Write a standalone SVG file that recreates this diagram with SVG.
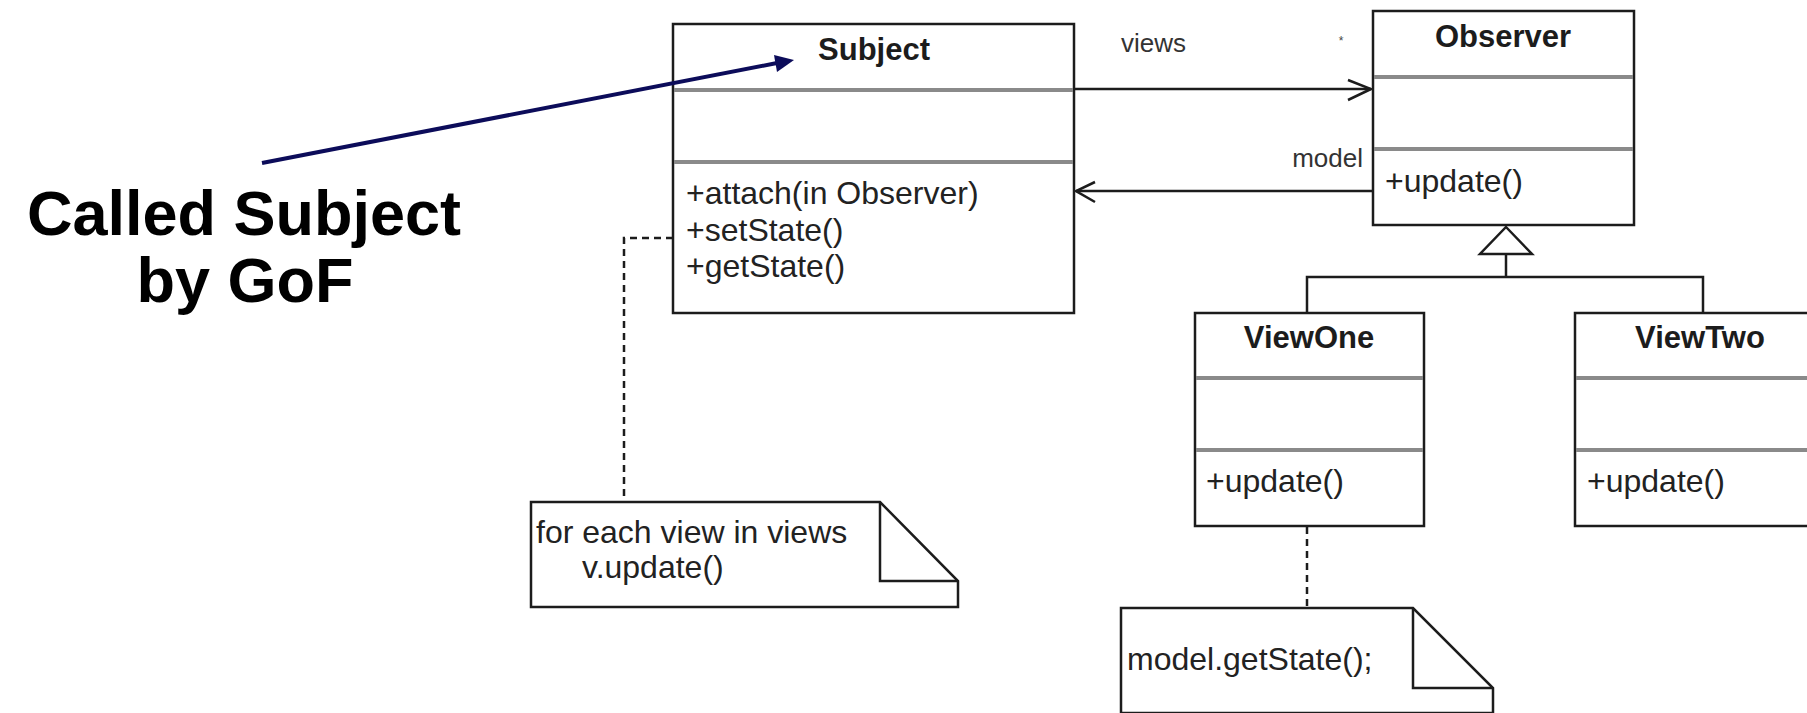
<svg xmlns="http://www.w3.org/2000/svg" width="1807" height="713" viewBox="0 0 1807 713">
  <defs>
    <style>
      .box { fill: #ffffff; stroke: #1c1c1c; stroke-width: 2.5; }
      .div { stroke: #8a8a8a; stroke-width: 4; }
      .title { font-family: "Liberation Sans", Arial, sans-serif; font-weight: bold; font-size: 31px; fill: #1c1c1c; text-anchor: middle; }
      .member { font-family: "Liberation Sans", Arial, sans-serif; font-size: 32px; fill: #222222; }
      .label { font-family: "Liberation Sans", Arial, sans-serif; font-size: 26px; fill: #333333; }
      .mult { font-family: "Liberation Sans", Arial, sans-serif; font-size: 12px; fill: #444444; text-anchor: middle; }
      .line { fill: none; stroke: #1c1c1c; stroke-width: 2.5; }
      .dash { fill: none; stroke: #1c1c1c; stroke-width: 2.5; stroke-dasharray: 7 5; }
      .note { fill: #ffffff; stroke: #1c1c1c; stroke-width: 2.5; stroke-linejoin: miter; }
      .callout { font-family: "Liberation Sans", Arial, sans-serif; font-weight: bold; font-size: 63px; fill: #000000; text-anchor: middle; }
    </style>
  </defs>
  <rect width="1807" height="713" fill="#ffffff"/>

  <!-- connectors -->
  <g id="connectors">
    <!-- views association: Subject -> Observer -->
    <line class="line" x1="1073" y1="89" x2="1371" y2="89"/>
    <polyline class="line" points="1348,80 1371,89 1348,100"/>
    <text class="label" x="1121" y="52">views</text>
    <text class="mult" x="1341" y="45">*</text>

    <!-- model association: Observer -> Subject -->
    <line class="line" x1="1373" y1="191" x2="1076" y2="191"/>
    <polyline class="line" points="1095,182 1076,191 1095,202"/>
    <text class="label" x="1363" y="167" text-anchor="end">model</text>

    <!-- generalization: ViewOne / ViewTwo -> Observer -->
    <polygon class="line" points="1506,227 1532,254 1480,254" fill="#ffffff"/>
    <polyline class="line" points="1506,254 1506,277"/>
    <polyline class="line" points="1307,313 1307,277 1703,277 1703,313"/>

    <!-- note anchors -->
    <polyline class="dash" points="673,238 624,238 624,502"/>
    <line class="dash" x1="1307" y1="527" x2="1307" y2="608"/>
  </g>

  <!-- Subject class -->
  <g id="subject">
    <rect class="box" x="673" y="24" width="401" height="289"/>
    <line class="div" x1="674" y1="90" x2="1073" y2="90"/>
    <line class="div" x1="674" y1="162" x2="1073" y2="162"/>
    <text class="title" x="874" y="60">Subject</text>
    <text class="member" x="686" y="204">+attach(in Observer)</text>
    <text class="member" x="686" y="241">+setState()</text>
    <text class="member" x="686" y="277">+getState()</text>
  </g>

  <!-- Observer class -->
  <g id="observer">
    <rect class="box" x="1373" y="11" width="261" height="214"/>
    <line class="div" x1="1374" y1="77" x2="1633" y2="77"/>
    <line class="div" x1="1374" y1="149" x2="1633" y2="149"/>
    <text class="title" x="1503" y="47">Observer</text>
    <text class="member" x="1385" y="192">+update()</text>
  </g>

  <!-- ViewOne class -->
  <g id="viewone">
    <rect class="box" x="1195" y="313" width="229" height="213"/>
    <line class="div" x1="1196" y1="378" x2="1423" y2="378"/>
    <line class="div" x1="1196" y1="450" x2="1423" y2="450"/>
    <text class="title" x="1309" y="348">ViewOne</text>
    <text class="member" x="1206" y="492">+update()</text>
  </g>

  <!-- ViewTwo class (runs past the right edge) -->
  <g id="viewtwo">
    <rect class="box" x="1575" y="313" width="260" height="213"/>
    <line class="div" x1="1576" y1="378" x2="1834" y2="378"/>
    <line class="div" x1="1576" y1="450" x2="1834" y2="450"/>
    <text class="title" x="1700" y="348">ViewTwo</text>
    <text class="member" x="1587" y="492">+update()</text>
  </g>

  <!-- note on Subject.setState -->
  <g id="note-notify">
    <path class="note" d="M531,502 H880 L958,581 V607 H531 Z"/>
    <path class="line" d="M880,502 V581 H958"/>
    <text class="member" x="536" y="543">for each view in views</text>
    <text class="member" x="582" y="578">v.update()</text>
  </g>

  <!-- note on ViewOne.update -->
  <g id="note-update">
    <path class="note" d="M1121,608 H1413 L1493,688 V713 H1121 Z"/>
    <path class="line" d="M1413,608 V688 H1493"/>
    <text class="member" x="1127" y="670">model.getState();</text>
  </g>

  <!-- callout -->
  <g id="callout">
    <line x1="262" y1="163" x2="777" y2="63" stroke="#0c0c5a" stroke-width="4"/>
    <polygon points="794,60 774,55 777,72" fill="#0c0c5a"/>
    <text class="callout" x="244" y="235">Called Subject</text>
    <text class="callout" x="245" y="302">by GoF</text>
  </g>
</svg>
